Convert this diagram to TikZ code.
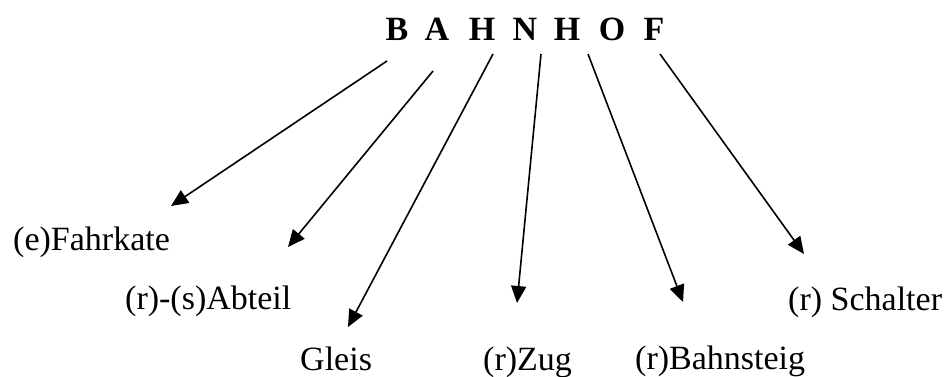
\documentclass[tikz,border=0pt]{standalone}
\usepackage{fontspec}
\setmainfont{Liberation Serif}
\usetikzlibrary{arrows.meta}
\begin{document}
\begin{tikzpicture}[x=1pt,y=-1pt,
  lbl/.style={anchor=base west,inner sep=0pt,font=\fontsize{34}{40}\selectfont},
  ttl/.style={anchor=base,inner sep=0pt,font=\fontsize{34}{40}\selectfont\bfseries},
  arr/.style={line width=1.6pt,-{Triangle[length=17pt,width=15pt]}}]
\useasboundingbox (0,0) rectangle (949,376);
% title letters
\node[ttl] (t1) at (397,40) {B};
\node[ttl] (t2) at (437,40) {A};
\node[ttl] (t3) at (482,40) {H};
\node[ttl] (t4) at (525,40) {N};
\node[ttl] (t5) at (567,40) {H};
\node[ttl] (t6) at (612,40) {O};
\node[ttl] (t7) at (654,40) {F};
% labels
\node[lbl] (fahr) at (13,250) {(e)Fahrkate};
\node[lbl] (abt) at (125,309) {(r)-(s)Abteil};
\node[lbl] (gleis) at (300,370) {Gleis};
\node[lbl] (zug) at (483,370) {(r)Zug};
\node[lbl] (bahn) at (635,369) {(r)Bahnsteig};
\node[lbl] (sch) at (788,310) {(r) Schalter};
% arrow ends
\coordinate (s1) at (387,61);  \coordinate (e1) at (171,206);
\coordinate (s2) at (433,71);  \coordinate (e2) at (288,247);
\coordinate (s3) at (493,54);  \coordinate (e3) at (348,327);
\coordinate (s4) at (541,54);  \coordinate (e4) at (517,303);
\coordinate (s5) at (588,54);  \coordinate (e5) at (683,302);
\coordinate (s6) at (660,54);  \coordinate (e6) at (804,254);
\draw[arr] (s1) -- (e1);
\draw[arr] (s2) -- (e2);
\draw[arr] (s3) -- (e3);
\draw[arr] (s4) -- (e4);
\draw[arr] (s5) -- (e5);
\draw[arr] (s6) -- (e6);
\end{tikzpicture}
\end{document}
